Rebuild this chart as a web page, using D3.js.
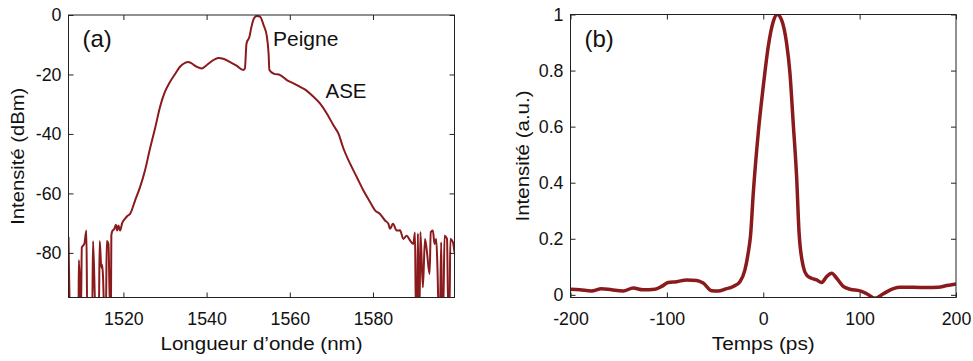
<!DOCTYPE html>
<html><head><meta charset="utf-8">
<script src="https://cdn.jsdelivr.net/npm/d3@7"></script>
<style>
body{margin:0;background:#fff;}
text{font-family:"Liberation Sans",Arial,Helvetica,sans-serif;fill:#111;}
</style></head>
<body><svg id="c" width="973" height="361"></svg>
<script>
// ---- Panel (a): spectrum ----
const wavelength = [1506.8,1507.2,1509.2,1509.3,1509.8,1510.0,1510.6,1511.1,1511.3,1512.5,1512.7,1513.3,1514.1,1514.3,1514.7,1514.9,1515.1,1515.4,1515.8,1516.0,1516.4,1516.8,1517.0,1517.1,1517.4,1517.8,1518.2,1518.5,1518.8,1519.2,1519.7,1520.4,1521.0,1521.6,1522.8,1524.0,1525.2,1526.4,1527.6,1528.8,1530.0,1531.2,1532.4,1533.6,1534.8,1535.6,1536.4,1537.6,1538.8,1540.0,1541.6,1542.8,1544.0,1545.6,1547.2,1548.8,1549.2,1549.6,1550.3,1550.8,1551.4,1552.1,1552.9,1553.7,1554.5,1554.9,1555.1,1556.1,1557.7,1559.3,1560.9,1562.5,1564.1,1565.7,1567.3,1568.9,1570.5,1571.7,1572.9,1574.5,1576.1,1577.7,1579.3,1580.5,1581.7,1582.9,1583.7,1584.1,1584.8,1585.7,1586.5,1587.3,1588.1,1588.9,1589.7,1590.1,1590.3,1590.6,1590.8,1591.0,1591.2,1591.4,1592.0,1592.5,1592.9,1593.6,1593.9,1594.4,1594.8,1595.2,1595.5,1595.8,1596.1,1596.4,1596.6,1596.9,1597.2,1597.8,1598.1,1598.4,1598.6,1599.2,1599.6];
const powerDbm = [-74.7,-100,-100,-82.4,-100,-78.1,-77,-72.5,-100,-100,-76.1,-100,-100,-76,-85,-84,-88,-100,-100,-76,-77,-100,-100,-74,-72.5,-72,-70.5,-72.5,-70.8,-72.5,-70,-68.5,-67.5,-66.9,-62.4,-57.9,-52.2,-44.9,-38.2,-30.9,-25.8,-22.5,-19.9,-17.4,-16.1,-15.8,-16.3,-17.4,-18.0,-16.9,-15.2,-14.5,-14.7,-15.8,-17.0,-18.5,-18.0,-9.6,-7.3,-3.9,-1.1,-0.3,-0.6,-3.4,-7.3,-12.9,-18.5,-19.7,-20.2,-21.9,-23.0,-24.2,-25.5,-27.5,-29.8,-33.1,-37.1,-39.9,-44.9,-50.0,-54.5,-59.0,-62.9,-65.7,-66.9,-69.1,-70.2,-71.9,-70.2,-72.5,-72.4,-75.3,-74.2,-75.8,-77,-73.1,-100,-100,-73.5,-100,-100,-73,-91.6,-75.3,-78.7,-87.1,-73,-72.5,-77,-75.3,-84.8,-100,-100,-76.4,-100,-100,-74.2,-75.3,-100,-100,-75.3,-76.4,-79.8];
const xTicksA = [1520,1540,1560,1580];
const yTicksA = [0,-20,-40,-60,-80];

// ---- Panel (b): temporal trace ----
const timePs = [-200,-190.3,-178.2,-167.8,-157.4,-145.3,-134.9,-124.6,-112.4,-105.5,-98.6,-89.9,-79.5,-69.1,-62.3,-53.6,-46.7,-39.8,-31.1,-24.2,-19.0,-15.6,-13.1,-10.4,-5.2,0,5.2,10.4,14.5,19.0,24.2,27.7,31.1,34.6,37.2,41.5,45.0,50.2,55.4,60.6,65.8,71.0,76.2,83.0,90.0,100.4,107.3,116.0,124.6,135.0,141.9,155.8,169.6,181.7,190.4,200];
const intensity = [0.020,0.018,0.014,0.022,0.018,0.014,0.024,0.018,0.020,0.030,0.044,0.047,0.053,0.051,0.042,0.015,0.014,0.020,0.030,0.047,0.089,0.150,0.215,0.36,0.577,0.743,0.886,0.975,1.0,0.981,0.898,0.791,0.612,0.422,0.22,0.101,0.071,0.059,0.053,0.044,0.065,0.077,0.059,0.030,0.020,0.014,0.004,-0.012,0.004,0.022,0.027,0.027,0.026,0.027,0.033,0.039];
const xTicksB = [-200,-100,0,100,200];
const yTicksB = [0,0.2,0.4,0.6,0.8,1];

const lineColor = "#8a1a1c";
const svg = d3.select("#c");
const fs = 17.8;

function panel(cfg){
  const {x0,x1,y0,y1,xDom,yDom,xt,yt,xs,ys,id,width,xTitle,xTitleLen,yTitle,yTitleLen,yTitleX,tag} = cfg;
  const x = d3.scaleLinear().domain(xDom).range([x0,x1]);
  const y = d3.scaleLinear().domain(yDom).range([y1,y0]);
  const g = svg.append("g");
  g.append("clipPath").attr("id",id).append("rect").attr("x",x0).attr("y",y0).attr("width",x1-x0).attr("height",y1-y0);
  const line = d3.line().x((d,i)=>x(xs[i])).y((d,i)=>y(ys[i])).curve(d3.curveMonotoneX);
  g.append("path").datum(xs).attr("d",line).attr("fill","none").attr("stroke",lineColor)
    .attr("stroke-width",width).attr("stroke-linejoin","round").attr("clip-path",`url(#${id})`);
  const tl = 5;
  const fmt = d => String(d);
  g.append("g").attr("transform",`translate(0,${y1})`).call(d3.axisBottom(x).tickValues(xt).tickSize(-tl).tickPadding(10).tickFormat(fmt))
    .call(a=>{a.select(".domain").remove();a.selectAll("text").attr("font-size",fs).attr("dy","1.0em");});
  g.append("g").attr("transform",`translate(0,${y0})`).call(d3.axisTop(x).tickValues(xt).tickSize(-tl).tickFormat(""))
    .call(a=>a.select(".domain").remove());
  g.append("g").attr("transform",`translate(${x0},0)`).call(d3.axisLeft(y).tickValues(yt).tickSize(-tl).tickPadding(7).tickFormat(fmt))
    .call(a=>{a.select(".domain").remove();a.selectAll("text").attr("font-size",fs);});
  g.append("g").attr("transform",`translate(${x1},0)`).call(d3.axisRight(y).tickValues(yt).tickSize(-tl).tickFormat(""))
    .call(a=>a.select(".domain").remove());
  g.selectAll(".tick line").attr("stroke","#222").attr("stroke-width",1);
  g.append("rect").attr("x",x0).attr("y",y0).attr("width",x1-x0).attr("height",y1-y0)
    .attr("fill","none").attr("stroke","#222").attr("stroke-width",1);
  g.append("text").attr("x",(x0+x1)/2).attr("y",350).attr("text-anchor","middle").attr("font-size",18)
    .attr("textLength",xTitleLen).attr("lengthAdjust","spacingAndGlyphs").text(xTitle);
  g.append("text").attr("transform",`translate(${yTitleX},${(y0+y1)/2}) rotate(-90)`).attr("text-anchor","middle").attr("font-size",18)
    .attr("textLength",yTitleLen).attr("lengthAdjust","spacingAndGlyphs").text(yTitle);
  g.append("text").attr("x",x0+14).attr("y",47).attr("font-size",24).text(tag);
  return {x,y,g};
}

const A = panel({x0:68.5,x1:454.5,y0:15,y1:297.5,xDom:[1506.8,1599.6],yDom:[-95,0],xt:xTicksA,yt:yTicksA,
  xs:wavelength,ys:powerDbm,id:"clipA",width:2,
  xTitle:"Longueur d\u2019onde (nm)",xTitleLen:202,yTitle:"Intensit\u00e9 (dBm)",yTitleLen:137,yTitleX:24,tag:"(a)"});
A.g.append("text").attr("x",273).attr("y",46).attr("font-size",21).text("Peigne");
A.g.append("text").attr("x",325.5).attr("y",97.5).attr("font-size",20.5).text("ASE");

const B = panel({x0:570.5,x1:956,y0:14.5,y1:297.5,xDom:[-200,200],yDom:[-0.0095,1],xt:xTicksB,yt:yTicksB,
  xs:timePs,ys:intensity,id:"clipB",width:3.5,
  xTitle:"Temps (ps)",xTitleLen:103,yTitle:"Intensit\u00e9 (a.u.)",yTitleLen:131,yTitleX:529,tag:"(b)"});
</script></body></html>
